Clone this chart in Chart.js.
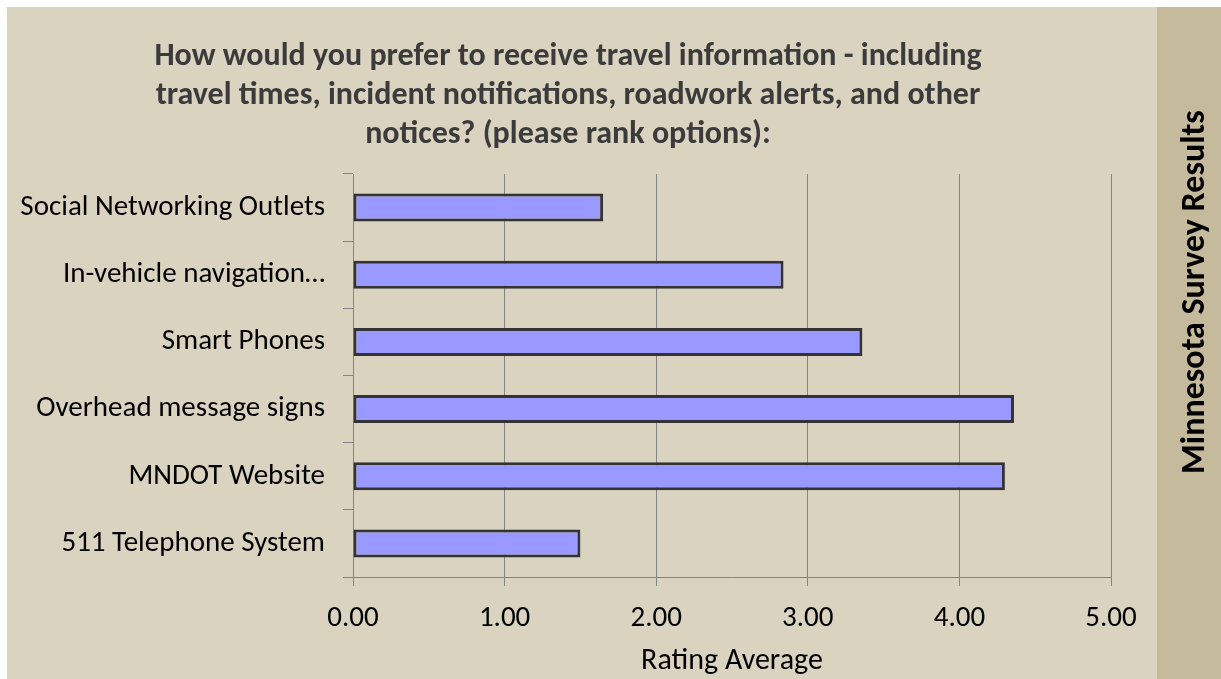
<!DOCTYPE html>
<html>
<head>
<meta charset="utf-8">
<title>Minnesota Survey Results</title>
<script src="https://cdn.jsdelivr.net/npm/chart.js@4.4.1/dist/chart.umd.min.js"></script>
<style>
    html, body { margin: 0; padding: 0; background: #ffffff; }
    #chart-container { width: 1221px; height: 679px; }
</style>
</head>
<body>
<div id="chart-container">
    <canvas id="ratingChart" width="1221" height="679"></canvas>
</div>
<script>
// Chart data
const categories = [
    'Social Networking Outlets',
    'In-vehicle navigation\u2026',
    'Smart Phones',
    'Overhead message signs',
    'MNDOT Website',
    '511 Telephone System'
];
const ratingAverages = [1.65, 2.84, 3.36, 4.36, 4.30, 1.50];
const xTicks = [0, 1, 2, 3, 4, 5];
const titleLines = [
    'How would you prefer to receive travel information - including',
    'travel times, incident notifications, roadwork alerts, and other',
    'notices? (please rank options):'
];
const axisTitle = 'Rating Average';
const sideLabel = 'Minnesota Survey Results';

const FONT = "Carlito, Lato, 'Open Sans', sans-serif";
const BG = '#d9d3bf';
const BAND = '#c5ba9c';
const GRID = '#858585';

// Background, title and side band
const decorPlugin = {
    id: 'decor',
    beforeDraw(chart) {
        const ctx = chart.ctx;
        ctx.save();
        ctx.fillStyle = '#ffffff';
        ctx.fillRect(0, 0, chart.width, chart.height);
        ctx.fillStyle = BG;
        ctx.fillRect(7, 7, 1150, chart.height - 7);
        ctx.fillStyle = BAND;
        ctx.fillRect(1157, 7, chart.width - 1157, chart.height - 7);
        ctx.restore();
    },
    afterDraw(chart) {
        const ctx = chart.ctx;
        ctx.save();
        ctx.fillStyle = '#3b3b3b';
        ctx.font = `bold 32px ${FONT}`;
        ctx.textAlign = 'center';
        ctx.textBaseline = 'alphabetic';
        titleLines.forEach((line, i) => {
            ctx.fillText(line, 568, 65 + i * 39);
        });

        // rotated label in the side band
        ctx.fillStyle = '#000000';
        ctx.font = `bold 34px ${FONT}`;
        ctx.translate(1204, 292);
        ctx.rotate(-Math.PI / 2);
        ctx.fillText(sideLabel, 0, 0);
        ctx.restore();
    }
};

document.addEventListener('DOMContentLoaded', function() {
    new Chart(document.getElementById('ratingChart'), {
        type: 'bar',
        data: {
            labels: categories,
            datasets: [{
                label: axisTitle,
                data: ratingAverages,
                backgroundColor: '#9999ff',
                borderColor: '#333333',
                borderWidth: 3,
                borderSkipped: false,
                categoryPercentage: 0.8,
                barPercentage: 0.52
            }]
        },
        options: {
            indexAxis: 'y',
            responsive: false,
            devicePixelRatio: 1,
            animation: false,
            layout: {
                padding: { left: 7, top: 174, right: 110, bottom: 0 }
            },
            scales: {
                x: {
                    min: 0,
                    max: 5,
                    afterBuildTicks: (scale) => {
                        scale.ticks = xTicks.map(v => ({ value: v }));
                    },
                    afterFit: (scale) => { scale.height = 102; },
                    grid: {
                        color: GRID,
                        lineWidth: 1,
                        tickLength: 9
                    },
                    border: { display: true, color: GRID, width: 1 },
                    ticks: {
                        padding: 15,
                        color: '#000000',
                        font: { family: FONT, size: 29 },
                        callback: (value) => Number(value).toFixed(2)
                    },
                    title: {
                        display: true,
                        text: axisTitle,
                        color: '#000000',
                        font: { family: FONT, size: 30 },
                        padding: { top: 0, bottom: 0 }
                    }
                },
                y: {
                    afterFit: (scale) => { scale.width = 346; },
                    grid: {
                        offset: true,
                        drawOnChartArea: false,
                        color: GRID,
                        tickLength: 10
                    },
                    border: { display: true, color: GRID, width: 1 },
                    ticks: {
                        padding: 18,
                        color: '#000000',
                        font: { family: FONT, size: 29 }
                    }
                }
            },
            plugins: {
                legend: { display: false },
                title: { display: false },
                tooltip: { enabled: false }
            }
        },
        plugins: [decorPlugin]
    });
});
</script>
</body>
</html>
